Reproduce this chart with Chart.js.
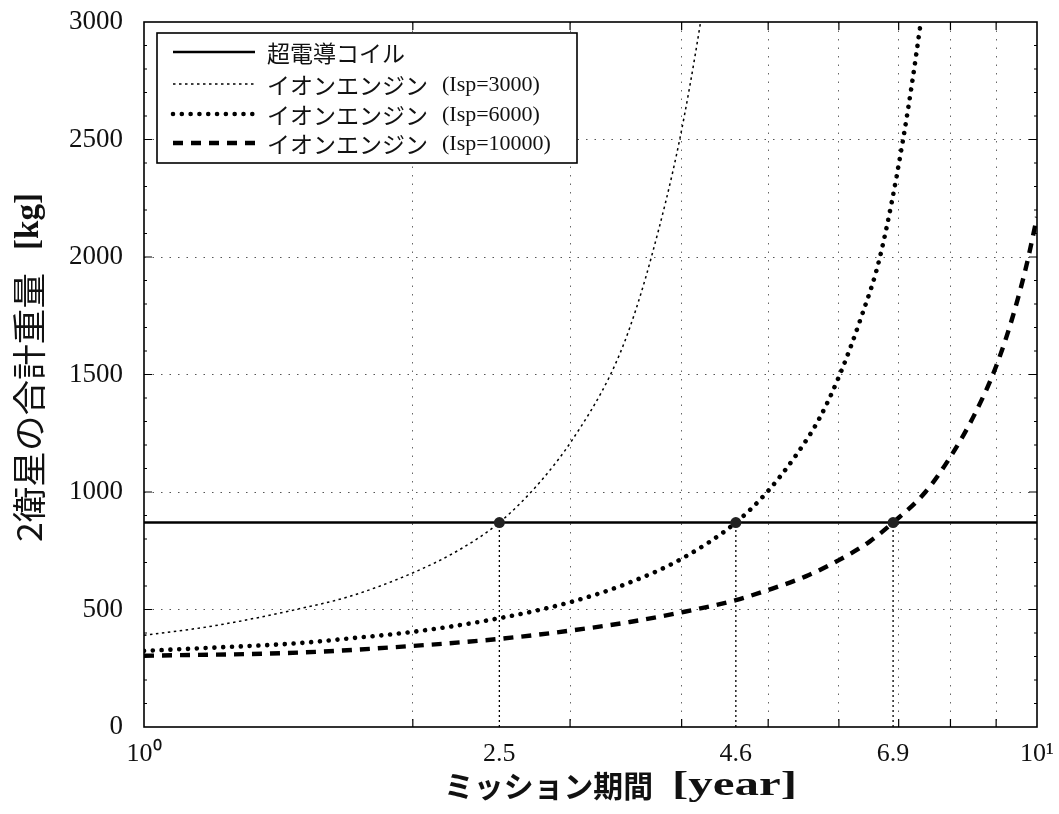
<!DOCTYPE html>
<html>
<head>
<meta charset="utf-8">
<script src="https://cdn.jsdelivr.net/npm/chart.js@4.4.1/dist/chart.umd.min.js"></script>
<style>
  html, body { margin: 0; padding: 0; background: #fff; }
  canvas { display: block; }
</style>
</head>
<body>
<canvas id="massChart" width="1059" height="814"></canvas>
<script>
// mission years (log axis) and total mass of the two satellites [kg]
const years3000 = [1, 1.2, 1.48, 1.7, 2, 2.25, 2.5, 2.78, 3.02, 3.33, 3.5, 3.7, 3.98, 4.2, 4.3];
const mass3000  = [390, 431, 500, 556, 656, 752, 870, 1045, 1224, 1500, 1700, 2000, 2500, 3000, 3270];

const years6000 = [1, 1.2, 1.48, 1.7, 2, 2.5, 3, 3.5, 4, 4.6, 5, 5.38, 5.7, 6, 6.35, 6.67, 7.08, 7.41, 7.55];
const mass6000  = [324, 338, 356, 377, 405, 463, 531, 615, 716, 870, 1005, 1160, 1310, 1490, 1740, 2000, 2500, 3000, 3250];

const years10000 = [1, 1.5, 2, 2.5, 3, 3.5, 4, 4.6, 5, 5.5, 6, 6.5, 6.9, 7.5, 8, 8.5, 9, 9.4, 9.74, 10];
const mass10000  = [303, 317, 345, 375, 410, 447, 488, 540, 583, 640, 710, 790, 870, 1000, 1150, 1325, 1535, 1750, 1970, 2170];

const coilYears = [1, 10];
const coilMass  = [870, 870];

// where each ion engine case overtakes the coil
const crossYears = [2.5, 4.6, 6.9];
const crossMass  = [870, 870, 870];

const gridYears = [2, 3, 4, 5, 6, 7, 8, 9];
const legendNames = ['超電導コイル', 'イオンエンジン', 'イオンエンジン', 'イオンエンジン'];
const legendIsp   = ['', '(Isp=3000)', '(Isp=6000)', '(Isp=10000)'];

const serif = "'Liberation Serif', 'Times New Roman', serif";
const gothic = "'Noto Sans CJK JP', 'Noto Sans', sans-serif";
const clear = 'rgba(0,0,0,0)';

const toXY = (xs, ys) => xs.map((x, i) => ({ x: x, y: ys[i] }));

// line looks, shared by the datasets and the legend samples
const styles = [
    { borderWidth: 2.6, borderDash: [], borderCapStyle: 'butt' },
    { borderWidth: 1.5, borderDash: [2.5, 3.5], borderCapStyle: 'butt' },
    { borderWidth: 4.6, borderDash: [0.01, 8.8], borderCapStyle: 'round' },
    { borderWidth: 4.4, borderDash: [10, 8], borderCapStyle: 'butt' }
];

function lineSet(xs, ys, i) {
    return Object.assign({
        data: toXY(xs, ys),
        borderColor: '#000',
        pointRadius: 0,
        cubicInterpolationMode: 'monotone',
        order: 2
    }, styles[i]);
}

const dropLines = crossYears.map((x, i) => ({
    data: [{ x: x, y: 0 }, { x: x, y: crossMass[i] }],
    borderColor: '#000',
    borderWidth: 1.3,
    borderDash: [2, 3],
    pointRadius: 0,
    order: 3
}));

function fitText(ctx, text, x, y, width) {
    const w = ctx.measureText(text).width;
    ctx.save();
    ctx.translate(x, y);
    ctx.scale(width / w, 1);
    ctx.fillText(text, 0, 0);
    ctx.restore();
}

// frame, inward ticks, axis titles and the boxed legend
const decorations = {
    id: 'decorations',
    afterDraw(chart) {
        const ctx = chart.ctx;
        const a = chart.chartArea;
        const xs = chart.scales.x, ys = chart.scales.y;

        ctx.save();
        ctx.strokeStyle = '#000';
        ctx.lineWidth = 1.2;
        ctx.beginPath();
        for (let v = 100; v < 3000; v += 100) {
            const p = ys.getPixelForValue(v);
            const len = v % 500 === 0 ? 8 : 3;
            ctx.moveTo(a.left, p); ctx.lineTo(a.left + len, p);
            ctx.moveTo(a.right, p); ctx.lineTo(a.right - len, p);
        }
        gridYears.forEach(v => {
            const p = xs.getPixelForValue(v);
            ctx.moveTo(p, a.bottom); ctx.lineTo(p, a.bottom - 8);
            ctx.moveTo(p, a.top); ctx.lineTo(p, a.top + 8);
        });
        ctx.stroke();
        ctx.lineWidth = 1.6;
        ctx.strokeRect(a.left, a.top, a.right - a.left, a.bottom - a.top);

        // axis titles
        ctx.fillStyle = '#111';
        ctx.textBaseline = 'middle';
        ctx.textAlign = 'left';
        ctx.font = 'bold 30px ' + gothic;
        fitText(ctx, 'ミッション期間', 444, 786, 209);
        ctx.font = 'bold 34px ' + serif;
        fitText(ctx, '[year]', 672, 786, 125);

        ctx.save();
        ctx.translate(29, 542);
        ctx.rotate(-Math.PI / 2);
        ctx.font = '34px ' + gothic;
        fitText(ctx, '2衛星の合計重量', 0, 0, 269);
        ctx.font = 'bold 34px ' + serif;
        fitText(ctx, '[kg]', 292, 0, 57);
        ctx.restore();

        // legend
        const bx = a.left + 13, by = a.top + 11, bw = 420, bh = 130;
        ctx.fillStyle = '#fff';
        ctx.fillRect(bx, by, bw, bh);
        ctx.lineWidth = 1.6;
        ctx.strokeRect(bx, by, bw, bh);
        const rows = [52, 84, 114, 143];
        rows.forEach((ry, i) => {
            const st = styles[i];
            ctx.save();
            ctx.strokeStyle = '#000';
            ctx.lineWidth = st.borderWidth;
            ctx.lineCap = st.borderCapStyle;
            ctx.setLineDash(st.borderDash);
            ctx.beginPath();
            ctx.moveTo(bx + 16, ry);
            ctx.lineTo(bx + 98, ry);
            ctx.stroke();
            ctx.restore();
            ctx.fillStyle = '#111';
            ctx.font = '23px ' + gothic;
            ctx.fillText(legendNames[i], bx + 110, ry + 1);
            if (legendIsp[i]) {
                ctx.font = '22px ' + serif;
                ctx.fillText(legendIsp[i], bx + 285, ry + 1);
            }
        });
        ctx.restore();
    }
};

const ctx = document.getElementById('massChart').getContext('2d');
const massChart = new Chart(ctx, {
    type: 'line',
    data: {
        datasets: [
            lineSet(coilYears, coilMass, 0),
            lineSet(years3000, mass3000, 1),
            lineSet(years6000, mass6000, 2),
            lineSet(years10000, mass10000, 3),
            ...dropLines,
            {
                type: 'scatter',
                data: toXY(crossYears, crossMass),
                pointRadius: 5.5,
                pointBackgroundColor: '#222',
                pointBorderWidth: 0,
                showLine: false,
                order: 0
            }
        ]
    },
    options: {
        responsive: false,
        animation: false,
        devicePixelRatio: 1,
        layout: { padding: { left: 0, right: 22, top: 22, bottom: 0 } },
        plugins: {
            legend: { display: false },
            tooltip: { enabled: false }
        },
        scales: {
            x: {
                type: 'logarithmic',
                min: 1,
                max: 10,
                afterBuildTicks: s => {
                    s.ticks = [1, ...gridYears, ...crossYears, 10]
                        .sort((p, q) => p - q)
                        .map(v => ({ value: v }));
                },
                afterFit: s => {
                    s.height = 87;
                    s.paddingLeft = 0;
                    s.paddingRight = 0;
                },
                ticks: {
                    autoSkip: false,
                    maxRotation: 0,
                    padding: 12,
                    color: '#111',
                    font: { family: serif, size: 26 },
                    callback: v => {
                        if (v === 1) return '10⁰';
                        if (v === 10) return '10¹';
                        return crossYears.includes(v) ? String(v) : '';
                    }
                },
                grid: {
                    drawTicks: false,
                    lineWidth: 1,
                    color: c => gridYears.includes(c.tick.value) ? '#666' : clear
                },
                border: { display: false, dash: [1.5, 7] }
            },
            y: {
                min: 0,
                max: 3000,
                afterFit: s => {
                    s.width = 144;
                    s.paddingTop = 0;
                    s.paddingBottom = 0;
                },
                ticks: {
                    stepSize: 500,
                    padding: 21,
                    color: '#111',
                    font: { family: serif, size: 27 },
                    callback: v => String(v)
                },
                grid: {
                    drawTicks: false,
                    lineWidth: 1,
                    color: c => (c.tick.value > 0 && c.tick.value < 3000) ? '#555' : clear
                },
                border: { display: false, dash: [1.5, 7] }
            }
        }
    },
    plugins: [decorations]
});
</script>
</body>
</html>
